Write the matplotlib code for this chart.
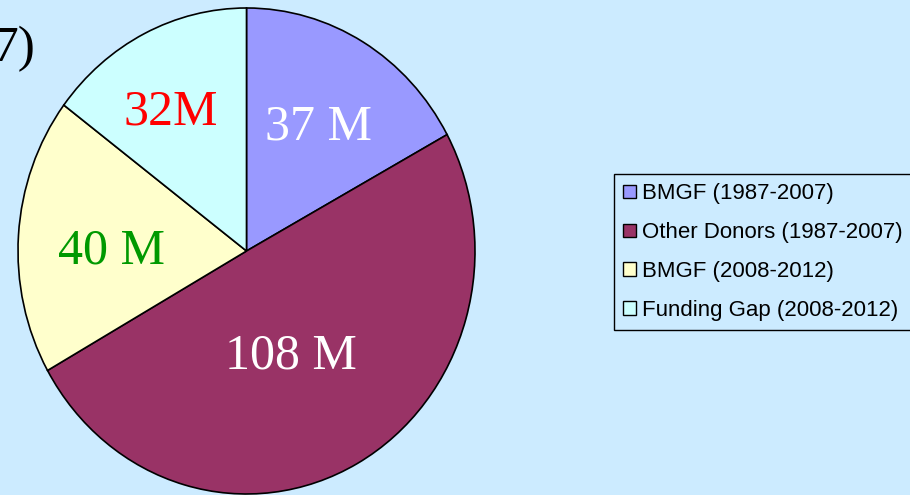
import matplotlib.pyplot as plt

# Funding shares (millions USD)
labels = ['BMGF (1987-2007)', 'Other Donors (1987-2007)',
          'BMGF (2008-2012)', 'Funding Gap (2008-2012)']
values = [37, 108, 40, 32]
slice_text = ['37 M', '108 M', '40 M', '32M']
colors = ['#9999FF', '#993366', '#FFFFCC', '#CCFFFF']
text_colors = ['white', 'white', '#009900', '#FF0000']
# label positions inside the pie (pie units)
text_pos = [(0.315, 0.51), (0.195, -0.432), (-0.589, 0.0), (-0.330, 0.57)]

bg = '#CCEBFF'
W, H = 910, 495
fig = plt.figure(figsize=(W / 100, H / 100), dpi=100, facecolor=bg)

# pie axes (slightly stretched vertically, like the original)
ax = fig.add_axes([18 / W, 1 / H, 457 / W, 486 / H])
wedges, _ = ax.pie(values, colors=colors, startangle=90, counterclock=False,
                   wedgeprops=dict(edgecolor='black', linewidth=1.2))
ax.set_aspect('auto')
ax.set_xlim(-1, 1)
ax.set_ylim(-1, 1)
ax.axis('off')

for txt, c, (x, y) in zip(slice_text, text_colors, text_pos):
    ax.text(x, y, txt, color=c, fontsize=36, family='Liberation Serif',
            ha='center', va='center')

# leftover of the cut-off title
fig.text(36 / W, 1 - 61 / H, '7)', fontsize=37, family='Liberation Serif',
         ha='right', va='baseline', color='black')

leg = fig.legend(wedges, labels, loc='upper left',
                 bbox_to_anchor=(614 / W, 1 - 174 / H), borderaxespad=0,
                 prop=dict(family='Liberation Sans', size=16),
                 handlelength=0.55, handleheight=0.55, handletextpad=0.28,
                 labelspacing=0.8, borderpad=0.42, fancybox=False,
                 facecolor=bg, edgecolor='black', framealpha=1)
leg.get_frame().set_linewidth(1.0)
for h in leg.legend_handles:
    h.set_linewidth(1.0)

fig.savefig('out.png', dpi=100, facecolor=bg)
